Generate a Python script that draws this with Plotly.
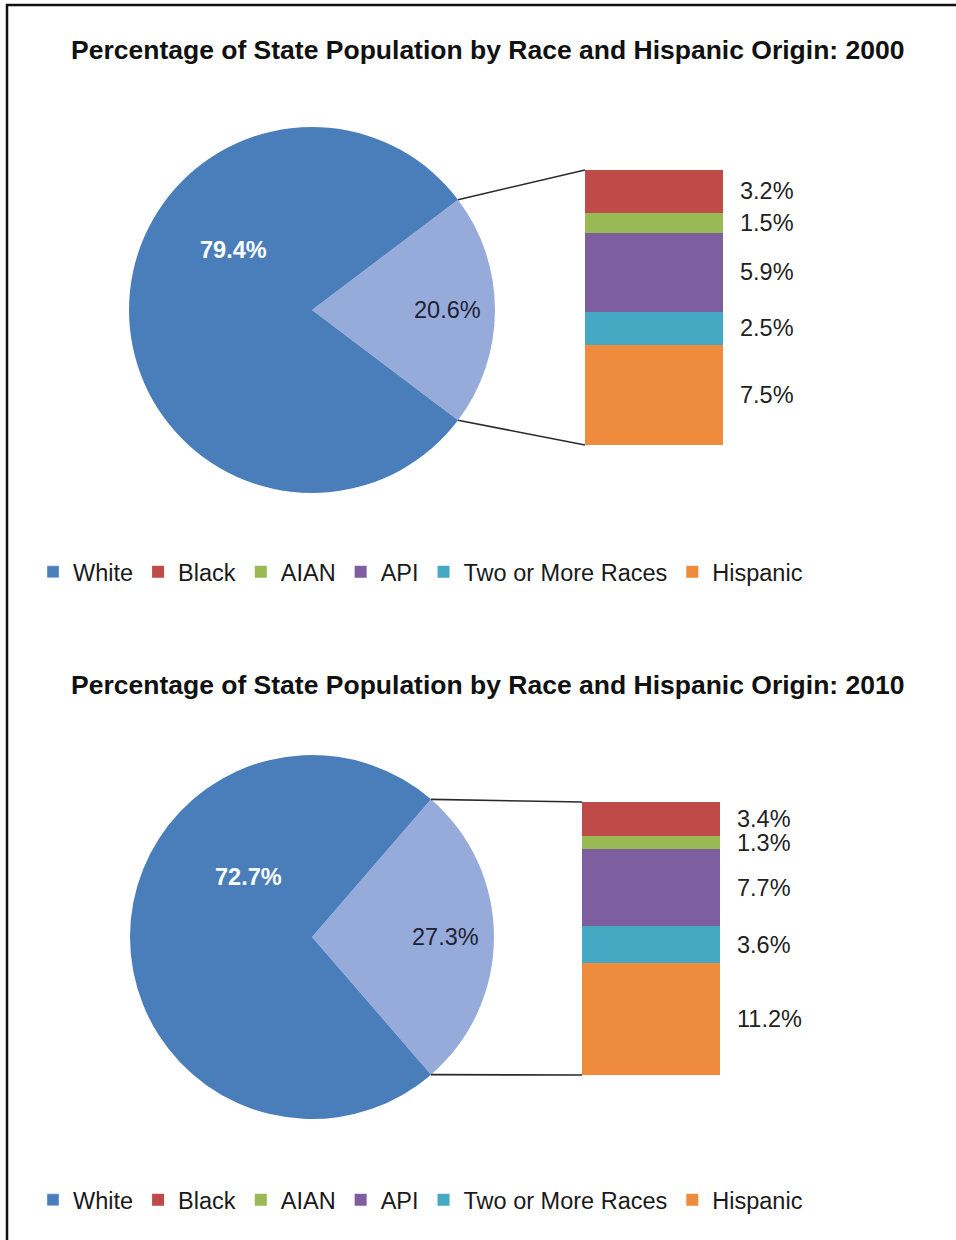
import math
import plotly.graph_objects as go

W, H = 956, 1240

# ---------------- data ----------------
years = ["2000", "2010"]
categories = ["Black", "AIAN", "API", "Two or More Races", "Hispanic"]
values_2000 = [3.2, 1.5, 5.9, 2.5, 7.5]
values_2010 = [3.4, 1.3, 7.7, 3.6, 11.2]
white_share = [79.4, 72.7]
other_share = [20.6, 27.3]
pie_labels = ["Other", "White"]
bar_values = [values_2000, values_2010]

# ---------------- style ----------------
FONT = "Liberation Sans, Arial, sans-serif"
WHITE_C = "#4A7EBB"
OTHER_C = "#97ABDB"
cat_colors = ["#BE4B48", "#98B954", "#7D5FA0", "#46A9C4", "#EF8B3C"]

# panel geometry in pixels
panels = [
    dict(cx=312, cy=310, r=183, bar=(585, 723, 170, 445), title_y=50, legend_y=572,
         white_lab=(142.8, 0.54), other_lab=(0.0, 0.74)),
    dict(cx=312, cy=937, r=182, bar=(582, 720, 802, 1075), title_y=685, legend_y=1200,
         white_lab=(136.8, 0.48), other_lab=(0.0, 0.735)),
]


def px(x):
    return x / W


def py(y):
    return 1 - y / H


fig = go.Figure()
annotations = []
shapes = []
layout_axes = {}

for i, (year, p) in enumerate(zip(years, panels)):
    suffix = "" if i == 0 else str(i + 1)
    xa, ya = "x" + suffix, "y" + suffix
    leg = "legend" + suffix
    cx, cy, r = p["cx"], p["cy"], p["r"]
    other, white = other_share[i], white_share[i]
    half = other / (other + white) * 180.0

    fig.add_trace(go.Pie(
        values=[other, white], labels=pie_labels, sort=False,
        direction="clockwise", rotation=90 - half,
        marker=dict(colors=[OTHER_C, WHITE_C], line=dict(width=0)),
        textinfo="none", showlegend=False,
        domain=dict(x=[px(cx - r), px(cx + r)], y=[py(cy + r), py(cy - r)]),
    ))

    # legend entry for White (pie slice)
    fig.add_trace(go.Bar(x=[None], y=[None], name="White", marker=dict(color=WHITE_C),
                         xaxis=xa, yaxis=ya, legend=leg))

    vals = bar_values[i]
    total = sum(vals)
    cum = 0
    bx0, bx1, by0, by1 = p["bar"]
    for cat, v, c in zip(categories, vals, cat_colors):
        fig.add_trace(go.Bar(
            x=[0], y=[v], width=[1], name=cat,
            marker=dict(color=c, line=dict(width=0)),
            xaxis=xa, yaxis=ya, legend=leg, hoverinfo="name+y",
        ))
        annotations.append(dict(
            x=1 + 15 / (bx1 - bx0), xref=xa + " domain", y=cum + v / 2, yref=ya,
            text=f"{v:.1f}%", showarrow=False, xanchor="left", yanchor="middle",
            font=dict(family=FONT, size=23.5, color="#222222"),
        ))
        cum += v

    layout_axes["xaxis" + suffix] = dict(domain=[px(bx0), px(bx1)], range=[-0.5, 0.5],
                                         visible=False, anchor=ya, fixedrange=True)
    layout_axes["yaxis" + suffix] = dict(domain=[py(by1), py(by0)], range=[total, 0],
                                         visible=False, anchor=xa, fixedrange=True)

    # pie labels
    for text, (ang, fr), col, bold in [
        (f"{white:.1f}%", p["white_lab"], "white", True),
        (f"{other:.1f}%", p["other_lab"], "#1E2233", False),
    ]:
        lx = cx + fr * r * math.cos(math.radians(ang))
        ly = cy - fr * r * math.sin(math.radians(ang))
        annotations.append(dict(
            x=px(lx), y=py(ly), xref="paper", yref="paper",
            text=f"<b>{text}</b>" if bold else text, showarrow=False,
            xanchor="center", yanchor="middle",
            font=dict(family=FONT, size=23.5, color=col),
        ))

    # connector lines from pie slice edges to bar corners
    ex = cx + r * math.cos(math.radians(half))
    ey_top = cy - r * math.sin(math.radians(half))
    ey_bot = cy + r * math.sin(math.radians(half))
    for ey, byy in [(ey_top, by0), (ey_bot, by1)]:
        shapes.append(dict(type="line", xref="paper", yref="paper",
                           x0=px(ex), y0=py(ey), x1=px(bx0), y1=py(byy),
                           line=dict(color="#2a2a2a", width=1.6)))

    # title
    annotations.append(dict(
        x=px(488), y=py(p["title_y"]), xref="paper", yref="paper",
        text=f"<b>Percentage of State Population by Race and Hispanic Origin: {year}</b>",
        showarrow=False, xanchor="center", yanchor="middle",
        font=dict(family=FONT, size=26.5, color="#111111"),
    ))

    layout_axes[leg] = dict(
        orientation="h", x=px(33), xanchor="left", y=py(p["legend_y"]), yanchor="middle",
        font=dict(family=FONT, size=23.5, color="#1a1a1a"), bgcolor="rgba(0,0,0,0)",
        traceorder="normal",
    )

# frame (top and left edges visible)
shapes.append(dict(type="line", xref="paper", yref="paper", x0=px(6), y0=py(5), x1=1, y1=py(5),
                   line=dict(color="#111111", width=2.5)))
shapes.append(dict(type="line", xref="paper", yref="paper", x0=px(7), y0=py(4), x1=px(7), y1=0,
                   line=dict(color="#111111", width=2.5)))

fig.update_layout(
    width=W, height=H, margin=dict(l=0, r=0, t=0, b=0),
    paper_bgcolor="white", plot_bgcolor="white",
    barmode="stack", bargap=0,
    annotations=annotations, shapes=shapes,
    font=dict(family=FONT),
    **layout_axes,
)

fig.write_html("out.html", config={"displayModeBar": False},
               post_script="document.body.style.margin='0px';")
